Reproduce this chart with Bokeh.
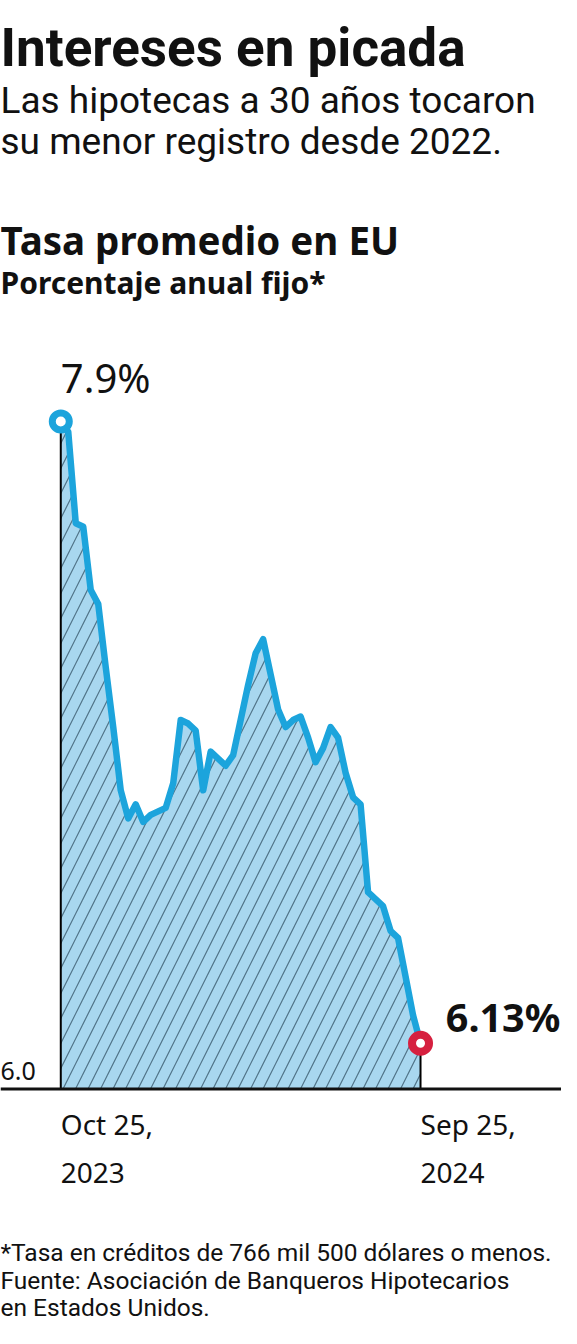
import pandas as pd
from bokeh.plotting import figure
from bokeh.models import Range1d, Label, Span
from bokeh.embed import file_html
from bokeh.resources import INLINE

# ---------------- data ----------------
TITLE = "Intereses en picada"
SUBTITLE = ["Las hipotecas a 30 años tocaron", "su menor registro desde 2022."]
CHART_TITLE = "Tasa promedio en EU"
CHART_SUBTITLE = "Porcentaje anual fijo*"
FOOTNOTE = [
    "*Tasa en créditos de 766 mil 500 dólares o menos.",
    "Fuente: Asociación de Banqueros Hipotecarios",
    "en Estados Unidos.",
]

start_date = "2023-10-25"
end_date = "2024-09-25"
rates = [
    7.90, 7.87, 7.61, 7.60, 7.42, 7.38, 7.20, 7.03, 6.85, 6.77,
    6.81, 6.76, 6.78, 6.79, 6.80, 6.87, 7.05, 7.04, 7.02, 6.85,
    6.96, 6.94, 6.92, 6.95, 7.05, 7.15, 7.24, 7.28, 7.18, 7.08,
    7.03, 7.05, 7.06, 7.00, 6.93, 6.97, 7.03, 7.00, 6.90, 6.83,
    6.81, 6.56, 6.54, 6.52, 6.45, 6.43, 6.32, 6.21, 6.13,
]
dates = pd.date_range(start_date, end_date, freq="7D")
baseline = 6.0
x_tick_lines = [["Oct 25,", "2023"], ["Sep 25,", "2024"]]
y_tick_label = "6.0"
first_label = "7.9%"
last_label = "6.13%"

# ---------------- layout ----------------
W, H = 561, 1328
REF_W, REF_H = 577, 1344
SX, SY = W / REF_W, H / REF_H


def fy(ref_y):
    """reference pixel row -> screen units from the bottom of the canvas"""
    return H - ref_y * SY


def fx(ref_x):
    return ref_x * SX


X0_PX, X1_PX = 62, 432          # reference x of first / last date
YB_PX, YT_PX = 1101.5, 426      # reference y of baseline / first value

d0 = dates[0].value / 1e6
d1 = dates[-1].value / 1e6
ppms = (fx(X1_PX) - fx(X0_PX)) / (d1 - d0)
x_start = d0 - fx(X0_PX) / ppms
x_end = x_start + W / ppms

ppu = (fy(YT_PX) - fy(YB_PX)) / (rates[0] - baseline)
y_start = baseline - fy(YB_PX) / ppu
y_end = y_start + H / ppu

BLUE = "#1ca4dc"
RED = "#d6203f"
FILL = "#a8d7ef"
HATCH = "#46687c"

F_TITLE = "Roboto"
F_LIGHT = "Roboto"
F_BOLD = "Noto Sans"
F_NUM = "Noto Sans"

p = figure(width=W, height=H, output_backend="svg", toolbar_location=None,
           x_axis_type="datetime", x_axis_location=None, y_axis_location=None,
           x_range=Range1d(x_start, x_end), y_range=Range1d(y_start, y_end),
           min_border=0, outline_line_color=None,
           background_fill_color="white", border_fill_color="white")
p.xgrid.visible = False
p.ygrid.visible = False

p.varea(x=dates, y1=[baseline] * len(rates), y2=rates, fill_color=FILL,
        hatch_pattern="/", hatch_color=HATCH, hatch_scale=25, hatch_weight=1.2,
        hatch_alpha=0.9)
p.segment(x0=[dates[0], dates[-1]], y0=[baseline, baseline],
          x1=[dates[0], dates[-1]], y1=[rates[0], rates[-1]],
          line_color="black", line_width=2)
p.add_layout(Span(location=baseline, dimension="width", line_color="#111111",
                  line_width=3))
p.line(x=dates, y=rates, line_color=BLUE, line_width=6.5, line_join="round")
p.scatter(x=[dates[0]], y=[rates[0]], size=17, fill_color="white",
          line_color=BLUE, line_width=7)
p.scatter(x=[dates[-1]], y=[rates[-1]], size=17, fill_color="white",
          line_color=RED, line_width=8)

SHIFT = 0.38   # empirical correction of the rendered alphabetic baseline


def lab(text, x, ref_y, size, font, style="normal", xu="screen",
        color="#111111"):
    p.add_layout(Label(x=x, y=fy(ref_y) + SHIFT * size, x_units=xu,
                       y_units="screen", text=text,
                       text_font=font, text_font_size=f"{size}px",
                       text_font_style=style, text_color=color,
                       text_align="left", text_baseline="alphabetic"))


lab(TITLE, 0, 68, 53, F_TITLE, "bold")
lab(SUBTITLE[0], 0, 115, 37, F_LIGHT)
lab(SUBTITLE[1], 0, 157, 37, F_LIGHT)
lab(CHART_TITLE, 0, 257, 38.5, F_BOLD, "bold")
lab(CHART_SUBTITLE, 0, 297, 30, F_BOLD, "bold")
lab(first_label, fx(62), 397, 40, F_NUM)
lab(last_label, fx(458), 1044, 39.5, F_NUM, "bold")
lab(y_tick_label, 0, 1093, 25, F_NUM)
for d, lines in zip([dates[0], dates[-1]], x_tick_lines):
    xm = d.value / 1e6
    lab(lines[0], xm, 1148, 28, F_NUM, xu="data")
    lab(lines[1], xm, 1197, 28, F_NUM, xu="data")
for i, t in enumerate(FOOTNOTE):
    lab(t, 0, 1277 + 27.5 * i, 24.5, F_LIGHT)

open("out.html", "w").write(file_html(p, INLINE))
